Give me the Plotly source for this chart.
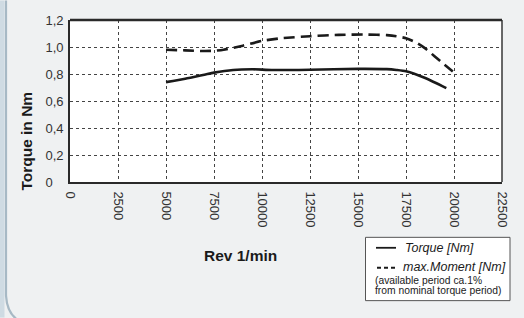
import plotly.graph_objects as go

# ---- data ----
rpm_torque = [5000, 6000, 7000, 7500, 8500, 9500, 10500, 12500, 15000, 16500, 17000, 17500, 18500, 19600]
torque = [0.74, 0.765, 0.795, 0.81, 0.83, 0.835, 0.83, 0.832, 0.838, 0.836, 0.83, 0.82, 0.77, 0.695]

rpm_max = [5000, 6000, 7000, 7500, 8000, 9000, 10000, 11000, 12500, 14000, 15500, 16500, 17000, 17500, 18000, 18500, 19000, 19500, 20100]
max_moment = [0.98, 0.975, 0.97, 0.972, 0.98, 1.01, 1.045, 1.065, 1.08, 1.09, 1.092, 1.088, 1.08, 1.065, 1.035, 0.99, 0.93, 0.87, 0.80]

x_ticks = [0, 2500, 5000, 7500, 10000, 12500, 15000, 17500, 20000, 22500]
y_ticks = [0, 0.2, 0.4, 0.6, 0.8, 1.0, 1.2]
y_ticktext = ["0\u00a0\u00a0\u00a0", "0,2", "0,4", "0,6", "0,8", "1,0", "1,2"]

# ---- layout geometry (pixels) ----
W, H = 524, 318
L, R, T, B = 70, 502, 19.5, 182
FONT = "Liberation Sans, Arial, sans-serif"


def px(x):
    return (x - L) / (R - L)


def py(y):
    return (B - y) / (B - T)


fig = go.Figure()
fig.add_trace(go.Scatter(x=rpm_torque, y=torque, mode="lines",
                         line=dict(color="#1a1a1a", width=2.6, shape="spline", smoothing=0.6),
                         showlegend=False, hoverinfo="skip"))
fig.add_trace(go.Scatter(x=rpm_max, y=max_moment, mode="lines",
                         line=dict(color="#1a1a1a", width=2.6, dash="11px,6px", shape="spline", smoothing=0.6),
                         showlegend=False, hoverinfo="skip"))

shapes = []
# left panel edge decoration
shapes.append(dict(type="rect", xref="paper", yref="paper", x0=px(0), x1=px(4.5), y0=py(318), y1=py(0),
                   fillcolor="#cfdbe3", line=dict(width=0), layer="below"))
shapes.append(dict(type="path", xref="paper", yref="paper",
                   path=f"M {px(6)} {py(0)} L {px(6)} {py(296)} Q {px(7)} {py(312)} {px(16)} {py(319)}",
                   line=dict(color="#a7b9c5", width=2.2), layer="below"))
# plot frame
shapes.append(dict(type="line", xref="paper", yref="paper", x0=0, x1=1, y0=1, y1=1,
                   line=dict(color="#2a2a2a", width=2.5)))
shapes.append(dict(type="line", xref="paper", yref="paper", x0=1, x1=1, y0=0, y1=1,
                   line=dict(color="#2a2a2a", width=1.4)))
# legend box
shapes.append(dict(type="rect", xref="paper", yref="paper", x0=px(365.5), x1=px(510), y0=py(301), y1=py(237.5),
                   fillcolor="white", line=dict(color="#555555", width=1)))
shapes.append(dict(type="line", xref="paper", yref="paper", x0=px(376), x1=px(396), y0=py(248), y1=py(248),
                   line=dict(color="#1a1a1a", width=1.8)))
shapes.append(dict(type="line", xref="paper", yref="paper", x0=px(377), x1=px(397), y0=py(268), y1=py(268),
                   line=dict(color="#1a1a1a", width=1.8, dash="4px,3px")))

annotations = [
    dict(text="<b>Rev 1/min</b>", xref="paper", yref="paper", x=px(240), y=py(256), showarrow=False,
         font=dict(family=FONT, size=15.5, color="#1a1a1a"), xanchor="center", yanchor="middle"),
    dict(text="<b>Torque in Nm</b>", xref="paper", yref="paper", x=px(27), y=py(141.5), showarrow=False,
         textangle=-90, font=dict(family=FONT, size=15.5, color="#1a1a1a"), xanchor="center", yanchor="middle"),
    dict(text="<i>Torque [Nm]</i>", xref="paper", yref="paper", x=px(403), y=py(248), showarrow=False,
         font=dict(family=FONT, size=12.5, color="#1a1a1a"), xanchor="left", yanchor="middle"),
    dict(text="<i>max.Moment [Nm]</i>", xref="paper", yref="paper", x=px(401), y=py(267.5), showarrow=False,
         font=dict(family=FONT, size=12.5, color="#1a1a1a"), xanchor="left", yanchor="middle"),
    dict(text="(available period ca.1%", xref="paper", yref="paper",
         x=px(373), y=py(280.5), showarrow=False, align="left",
         font=dict(family=FONT, size=10.3, color="#1a1a1a"), xanchor="left", yanchor="middle"),
    dict(text="from nominal torque period)", xref="paper", yref="paper",
         x=px(373), y=py(291), showarrow=False, align="left",
         font=dict(family=FONT, size=10.3, color="#1a1a1a"), xanchor="left", yanchor="middle"),
]

fig.update_layout(
    width=W, height=H,
    margin=dict(l=L, r=W - R, t=T, b=H - B, pad=0),
    paper_bgcolor="#eff1f2",
    plot_bgcolor="white",
    shapes=shapes,
    annotations=annotations,
    font=dict(family=FONT, size=13, color="#333333"),
    xaxis=dict(range=[0, 22500], tickvals=x_ticks, ticktext=[str(v) for v in x_ticks], tickangle=90,
               showgrid=True, gridcolor="#444444", griddash="dot", gridwidth=1,
               showline=True, linecolor="#2a2a2a", linewidth=1.6, zeroline=False, ticks="",
               ticklabelstandoff=5,
               tickfont=dict(family=FONT, size=13, color="#333333"), fixedrange=True),
    yaxis=dict(range=[0, 1.2], tickvals=y_ticks, ticktext=y_ticktext,
               showgrid=True, gridcolor="#444444", griddash="dot", gridwidth=1,
               showline=True, linecolor="#2a2a2a", linewidth=1.6, zeroline=False, ticks="",
               ticklabelstandoff=2,
               tickfont=dict(family=FONT, size=13, color="#333333"), fixedrange=True),
)

fig.write_html("out.html", config={"displayModeBar": False},
               post_script="document.body.style.margin='0';document.body.style.overflow='hidden';")
